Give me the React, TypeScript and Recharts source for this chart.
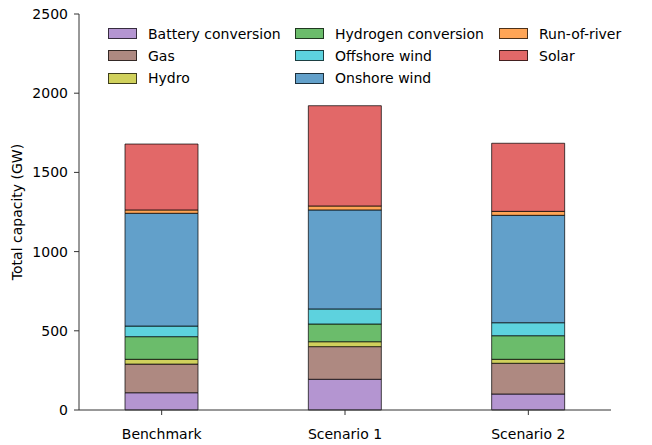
import React from 'react';
import { BarChart, Bar, XAxis, YAxis } from 'recharts';

const categories = ['Benchmark', 'Scenario 1', 'Scenario 2'];
const battery = [109, 194, 101];
const gas = [181, 206, 194];
const hydro = [30, 31, 25];
const hydrogen = [143, 112, 149];
const offshore = [67, 95, 82];
const onshore = [712, 625, 678];
const runOfRiver = [21, 25, 25];
const solar = [416, 633, 430];
const yTicks = [0, 500, 1000, 1500, 2000, 2500];

const series = [
  { key: 'battery', name: 'Battery conversion', values: battery, color: '#b495d1' },
  { key: 'gas', name: 'Gas', values: gas, color: '#ae8981' },
  { key: 'hydro', name: 'Hydro', values: hydro, color: '#d0d15c' },
  { key: 'hydrogen', name: 'Hydrogen conversion', values: hydrogen, color: '#6bbc6b' },
  { key: 'offshore', name: 'Offshore wind', values: offshore, color: '#5dd2de' },
  { key: 'onshore', name: 'Onshore wind', values: onshore, color: '#62a0ca' },
  { key: 'ror', name: 'Run-of-river', values: runOfRiver, color: '#ffa556' },
  { key: 'solar', name: 'Solar', values: solar, color: '#e26868' },
];

const data = categories.map((c, i) => {
  const row: any = { category: c };
  series.forEach((s) => { row[s.key] = s.values[i]; });
  return row;
});

const FONT = 'DejaVu Sans, sans-serif';
const legendCols = [108, 295, 499];
const legendRows = [33.5, 55.7, 78];

export default function App() {
  return (
    <div style={{ position: 'absolute', left: 0, top: 0, width: 652, height: 445, fontFamily: FONT }}>
      <BarChart
        width={652}
        height={445}
        data={data}
        margin={{ top: 14, right: 41, bottom: 0, left: 0 }}
      >
        <XAxis
          dataKey="category"
          padding={{ left: -9, right: -9 }}
          height={35}
          tickSize={5}
          tickMargin={14}
          stroke="#333"
          tick={{ fill: '#000', fontSize: 14, fontFamily: FONT }}
          tickLine={{ stroke: '#333' }}
        />
        <YAxis
          width={79}
          domain={[0, 2500]}
          ticks={yTicks}
          interval={0}
          tickSize={5}
          tickMargin={6}
          stroke="#333"
          tick={{ fill: '#000', fontSize: 14, fontFamily: FONT }}
          tickLine={{ stroke: '#333' }}
          label={{
            content: () => (
              <text
                x={17}
                y={212}
                transform="rotate(-90 17 212)"
                textAnchor="middle"
                dominantBaseline="central"
                fontSize={14}
                fontFamily={FONT}
                fill="#000"
              >
                Total capacity (GW)
              </text>
            ),
          }}
        />
        {series.map((s) => (
          <Bar
            key={s.key}
            dataKey={s.key}
            name={s.name}
            stackId="a"
            fill={s.color}
            stroke="#000"
            strokeOpacity={0.7}
            strokeWidth={1}
            barSize={73}
            isAnimationActive={false}
          />
        ))}
      </BarChart>
      {series.map((s, i) => {
        const col = Math.floor(i / 3);
        const row = i % 3;
        const x = legendCols[col];
        const y = legendRows[row];
        return (
          <div
            key={s.key}
            style={{
              position: 'absolute',
              left: x,
              top: y - 10,
              height: 20,
              display: 'flex',
              alignItems: 'center',
              whiteSpace: 'nowrap',
              fontSize: 14,
              fontFamily: FONT,
              color: '#000',
            }}
          >
            <span
              style={{
                display: 'inline-block',
                width: 27,
                height: 9,
                background: s.color,
                border: '1px solid rgba(0,0,0,0.7)',
                marginRight: 11,
              }}
            />
            <span>{s.name}</span>
          </div>
        );
      })}
    </div>
  );
}
